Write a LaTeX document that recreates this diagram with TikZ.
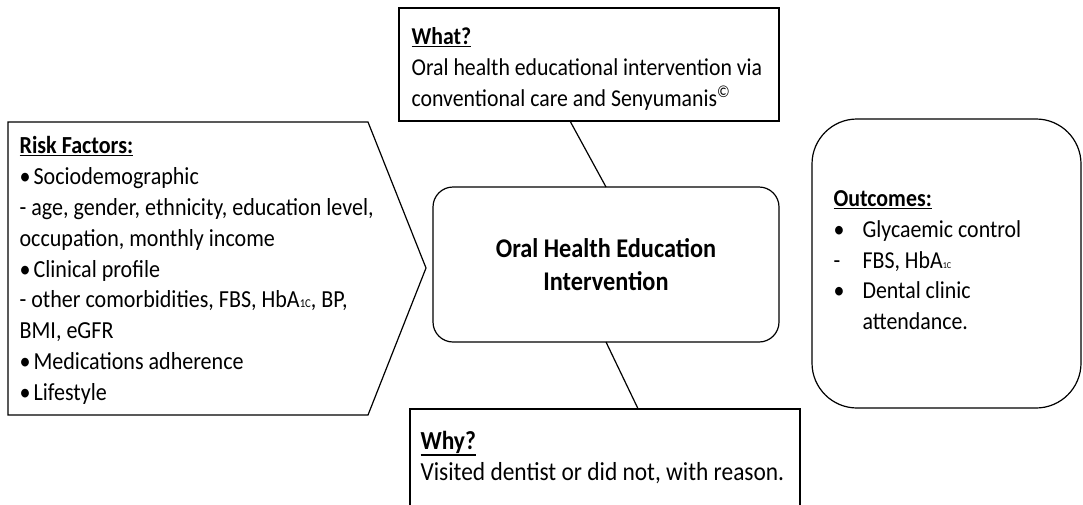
\documentclass[tikz,border=0pt]{standalone}
\usepackage{fontspec}
\setmainfont[FakeStretch=0.9]{Carlito}
\usetikzlibrary{positioning,calc}
\newcommand\hbsub[2][12]{{\fontsize{#1}{#1}\selectfont #2}}
\newcommand\headul[1]{\setbox0\hbox{\textbf{#1}}\rlap{\rule[\dimexpr-\dp0-2.5pt\relax]{\wd0}{1.6pt}}\box0}

\begin{document}
\begin{tikzpicture}[x=1pt,y=-1pt,line width=1.2pt,
  box/.style={draw,inner sep=0pt,outer sep=0pt},
  txt/.style={inner sep=0pt,anchor=north west,align=left,font=\fontsize{#1}{30.8}\selectfont},
  txt/.default=25]
\clip (0,0) rectangle (1083,504);
\fill[white] (0,0) rectangle (1083,504);
\draw (8,122) -- (368,122) -- (426,268) -- (368,415) -- (8,415) -- cycle;
\node at(19,136)[txt=24.5](risk){\headul{Risk Factors:}\\
  \textbullet\hspace{3pt}Sociodemographic\\
  - age, gender, ethnicity, education level,\\
  occupation, monthly income\\
  \textbullet\hspace{3pt}Clinical profile\\
  - other comorbidities, FBS, HbA\hbsub{1C}, BP,\\
  BMI, eGFR\\
  \textbullet\hspace{3pt}Medications adherence\\
  \textbullet\hspace{3pt}Lifestyle};
\node at(399,8)[box,anchor=north west,minimum width=380pt,minimum height=113pt](what){};
\node at(411,27)[txt=24.2](whattxt){\headul{What?}\\
  Oral health educational intervention via\\
  conventional care and Senyumanis\textsuperscript{\textcopyright}};
\node at(606,264.5)[box,rounded corners=20pt,minimum width=346pt,minimum height=155pt,
  align=center,font=\fontsize{27}{33}\selectfont\bfseries](ohe){Oral Health Education\\Intervention};
\node at(812,119)[box,anchor=north west,rounded corners=45pt,minimum width=269pt,minimum height=289pt](outc){};
\node at(833,190)[txt=24.3](outctxt){\headul{Outcomes:}\\
  \makebox[29pt][l]{\textbullet}Glycaemic control\\
  \makebox[29pt][l]{-}FBS, HbA\hbsub[9]{1C}\\
  \makebox[29pt][l]{\textbullet}Dental clinic\\
  \makebox[29pt][l]{}attendance.};
\node at(410,409)[box,anchor=north west,minimum width=390pt,minimum height=120pt](why){};
\node at(420,430.5)[txt=26](whytxt){\headul{Why?}\\
  Visited dentist or did not, with reason.};
\draw ($(what.south west)!.45!(what.south east)$) -- (ohe.north);
\draw (ohe.south) -- ($(why.north west)!.585!(why.north east)$);
\end{tikzpicture}
\end{document}
